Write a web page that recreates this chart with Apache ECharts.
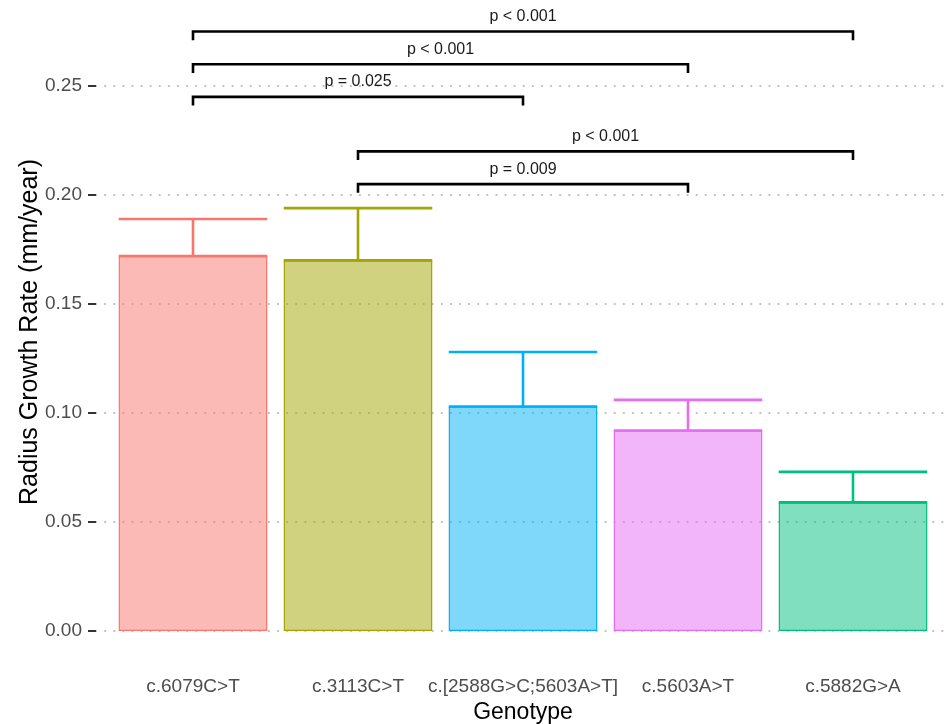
<!DOCTYPE html>
<html>
<head>
<meta charset="utf-8">
<title>Radius Growth Rate by Genotype</title>
<script src="https://cdn.jsdelivr.net/npm/echarts@6/dist/echarts.min.js"></script>
<style>
  html, body { margin: 0; padding: 0; background: #fff; }
  #chart { width: 946px; height: 724px; }
</style>
</head>
<body>
<div id="chart"></div>
<script>
// Genotype groups and their mean radius growth rate (mm/year)
const genotypes = ['c.6079C>T', 'c.3113C>T', 'c.[2588G>C;5603A>T]', 'c.5603A>T', 'c.5882G>A'];
const meanRate = [0.172, 0.170, 0.103, 0.092, 0.059];
// Upper end of each error bar (mean + SE)
const upperRate = [0.189, 0.194, 0.128, 0.106, 0.073];
const groupColors = ['#F8766D', '#A3A500', '#00B0F6', '#E76BF3', '#00BF7D'];
const groupFills = ['rgba(248,118,109,0.5)', 'rgba(163,165,0,0.5)', 'rgba(0,176,246,0.5)', 'rgba(231,107,243,0.5)', 'rgba(0,191,125,0.5)'];

// Pairwise comparisons: [from group, to group, bracket height, label]
const compFrom = [0, 0, 0, 1, 1];
const compTo = [4, 3, 2, 4, 3];
const compHeight = [0.275, 0.26, 0.245, 0.22, 0.205];
const compLabel = ['p < 0.001', 'p < 0.001', 'p = 0.025', 'p < 0.001', 'p = 0.009'];
const tipLength = 0.004;

const yTicksMin = 0, yTicksMax = 0.30, yTickStep = 0.05;

const FONT = "'Liberation Sans', Arial, Helvetica, sans-serif";
const chart = echarts.init(document.getElementById('chart'), null, { renderer: 'canvas' });

const barData = meanRate.map((v, i) => ({
  value: v,
  itemStyle: { color: groupFills[i], borderColor: groupColors[i], borderWidth: 1.2 }
}));
const errData = meanRate.map((v, i) => [i, v, upperRate[i]]);
const compData = compFrom.map((a, i) => [a, compTo[i], compHeight[i]]);

const option = {
  backgroundColor: '#ffffff',
  animation: false,
  textStyle: { fontFamily: FONT },
  grid: [
    // panel used for the y scale and dotted gridlines
    { left: 96, right: 0, top: -23, bottom: 93, containLabel: false, outerBoundsMode: 'none' },
    // panel holding the bars
    { left: 110.5, right: 10.5, top: -23, bottom: 93, containLabel: false, outerBoundsMode: 'none' }
  ],
  xAxis: [
    { gridIndex: 0, type: 'value', min: 0, max: 1, show: false },
    {
      gridIndex: 1, type: 'category', data: genotypes,
      axisLine: { show: false }, axisTick: { show: false },
      axisLabel: { margin: 46, fontSize: 19, color: '#4D4D4D', fontFamily: FONT, interval: 0 },
      name: 'Genotype', nameLocation: 'middle', nameGap: 70,
      nameTextStyle: { fontSize: 23, color: '#000', fontFamily: FONT }
    }
  ],
  yAxis: [
    {
      gridIndex: 0, type: 'value', min: yTicksMin, max: yTicksMax, interval: yTickStep,
      axisLine: { show: false },
      axisTick: { show: true, length: 8, lineStyle: { color: '#333', width: 2 } },
      axisLabel: { margin: 14, fontSize: 19, color: '#4D4D4D', fontFamily: FONT,
                   formatter: v => v.toFixed(2) },
      splitLine: { show: true, lineStyle: { color: '#BDBDBD', width: 2.2, type: [0.1, 9], cap: 'round' } }
    },
    { gridIndex: 1, type: 'value', min: yTicksMin, max: yTicksMax, interval: yTickStep, show: false }
  ],
  graphic: [
    {
      type: 'text', x: 30, y: 332, rotation: Math.PI / 2,
      style: { text: 'Radius Growth Rate (mm/year)', fontSize: 25, fill: '#000',
               fontFamily: FONT, align: 'center', verticalAlign: 'middle' }
    }
  ],
  series: [
    {
      type: 'bar', xAxisIndex: 1, yAxisIndex: 1, data: barData,
      barWidth: '90%', silent: true
    },
    {
      type: 'custom', xAxisIndex: 1, yAxisIndex: 1, data: errData, silent: true,
      encode: { x: 0, y: [1, 2] },
      renderItem: function (params, api) {
        const i = params.dataIndex;
        const x = api.value(0);
        const lo = api.coord([x, api.value(1)]);
        const hi = api.coord([x, api.value(2)]);
        const half = api.size([1, 0])[0] * 0.9 / 2;
        const st = { stroke: groupColors[i], lineWidth: 2.6, fill: null };
        return {
          type: 'group',
          children: [
            { type: 'line', shape: { x1: lo[0], y1: lo[1], x2: hi[0], y2: hi[1] }, style: st },
            { type: 'line', shape: { x1: hi[0] - half, y1: hi[1], x2: hi[0] + half, y2: hi[1] }, style: st },
            { type: 'line', shape: { x1: lo[0] - half, y1: lo[1], x2: lo[0] + half, y2: lo[1] }, style: st }
          ]
        };
      }
    },
    {
      type: 'custom', xAxisIndex: 1, yAxisIndex: 1, data: compData, silent: true, clip: false,
      encode: { x: [0, 1], y: 2 },
      renderItem: function (params, api) {
        const i = params.dataIndex;
        const y = api.value(2);
        const a = api.coord([api.value(0), y]);
        const b = api.coord([api.value(1), y]);
        const tip = api.size([0, tipLength])[1];
        return {
          type: 'group',
          children: [
            {
              type: 'polyline',
              shape: { points: [[a[0], a[1] + tip], [a[0], a[1]], [b[0], b[1]], [b[0], b[1] + tip]] },
              style: { stroke: '#000', lineWidth: 2.6, fill: null, lineJoin: 'miter' }
            },
            {
              type: 'text', x: (a[0] + b[0]) / 2, y: a[1] - 7,
              style: { text: compLabel[i], fontSize: 16, fill: '#1A1A1A', fontFamily: FONT,
                       align: 'center', verticalAlign: 'bottom' }
            }
          ]
        };
      }
    }
  ]
};

chart.setOption(option);
</script>
</body>
</html>
